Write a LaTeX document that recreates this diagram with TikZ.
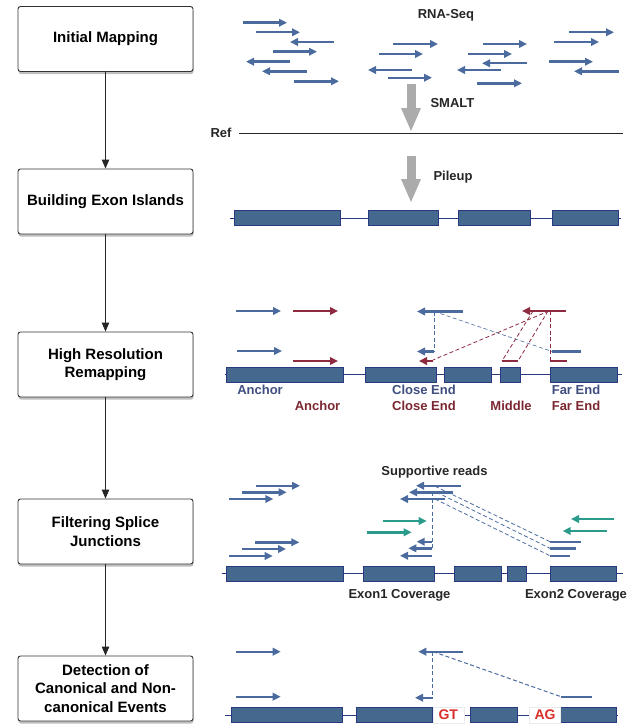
\documentclass[tikz,border=0pt]{standalone}
\usepackage{fontspec}
\setmainfont{Liberation Sans}
\usetikzlibrary{arrows.meta,shadows}

\definecolor{readblue}{HTML}{4B6A9E}
\definecolor{readred}{HTML}{8E2A40}
\definecolor{readteal}{HTML}{2A9B8A}
\definecolor{exonfill}{HTML}{45688F}
\definecolor{exonline}{HTML}{2A3A80}
\definecolor{labblue}{HTML}{3E4E7E}
\definecolor{labred}{HTML}{7B2731}
\definecolor{sitered}{HTML}{D9302C}
\definecolor{pipegray}{HTML}{ABABAB}

\tikzset{
  stage/.style={draw=black!80, line width=0.9pt, fill=white, rounded corners=2.5pt,
    minimum width=175pt, minimum height=65pt, align=center,
    font=\fontsize{15}{18.5}\selectfont\bfseries,
    drop shadow={shadow xshift=0.5pt, shadow yshift=-2.5pt, fill=black, opacity=0.25}},
  flow/.style={-{Triangle[length=9pt,width=7.5pt]}, line width=0.9pt, black!85},
  read/.style={line width=2.4pt, -{Triangle[length=8pt,width=7.5pt]}, readblue},
  bare/.style={line width=2.4pt, readblue},
  link/.style={line width=0.8pt, dash pattern=on 4pt off 2.5pt, readblue},
  exon/.style={fill=exonfill, draw=exonline, line width=0.8pt},
  intron/.style={draw=exonline, line width=0.8pt},
  pipe/.style={line width=9pt, pipegray, -{Triangle[length=24pt,width=18pt]}},
  caption/.style={font=\fontsize{13}{15}\selectfont\bfseries, text=black!85},
  site/.style={fill=white, draw=black!8, minimum width=31pt, minimum height=15.4pt,
    inner sep=0pt, font=\fontsize{14}{16}\selectfont\bfseries, text=sitered}
}

\begin{document}
\begin{tikzpicture}[x=1pt, y=-1pt]
    \useasboundingbox (0,0) rectangle (634,725);

    % workflow on the left
    \node[stage] (initmap) at (105.5,39) {Initial Mapping};
    \node[stage] (exonisl) at (105.5,201.5) {Building Exon Islands};
    \node[stage] (remap) at (105.5,364.5) {High Resolution\\Remapping};
    \node[stage] (filter) at (105.5,531.5) {Filtering Splice\\Junctions};
    \node[stage] (detect) at (105.5,688.5) {Detection of\\Canonical and Non-\\canonical Events};

    \draw[flow] (initmap) -- (exonisl);
    \draw[flow] (exonisl) -- (remap);
    \draw[flow] (remap) -- (filter);
    \draw[flow] (filter) -- (detect);

    % initial mapping
    \node[caption] (rnaseq) at (446,15.7) {RNA-Seq};
    \foreach \xa/\xb/\yy in {243/287/22.7, 256/300/32.3, 334/290/42, 273/317/51.7, 290/246/61.7,
        307/262/71.3, 294/339/81.3, 393/438/44, 379/423/54, 412/368/70, 388/432/77.7,
        483/527/44, 468/512/54, 527/482/63.3, 501/457/70, 477/522/83.3,
        569/614/32.3, 554/599/42, 549/593/61.7, 619/574/71.3}
        \draw[read] (\xa,\yy) -- (\xb,\yy);

    \draw[pipe] (411,84) -- (411,132);
    \node[caption, anchor=west] (smalt) at (427,103) {SMALT};
    \node[caption] (reflabel) at (221,133.3) {Ref};
    \draw[line width=1pt, black!85] (239,133.3) -- (623,133.3);

    % exon islands
    \draw[pipe] (411,156) -- (411,203);
    \node[caption, anchor=west] (pileup) at (430,176.7) {Pileup};
    \draw[intron] (230,218) -- (621,218);
    \foreach \xa/\xb in {234/340, 368/438, 458/530, 552/618}
        \draw[exon] (\xa,210.5) rectangle (\xb,225.5);

    % high resolution remapping
    \draw[read] (236,311) -- (281,311);
    \draw[read] (237,351) -- (282,351);
    \draw[read, readred] (293,311) -- (338,311);
    \draw[read, readred] (293,361) -- (338,361);

    \draw[link] (434.3,311.5) -- (434.3,351.5);
    \draw[link, line width=0.6pt] (434.3,311.5) -- (552,351.5);
    \draw[read] (463,311.5) -- (417,311.5);
    \draw[read] (434.3,351.5) -- (417,351.5);
    \draw[bare] (552,351.5) -- (581,351.5);

    \draw[link, readred] (549,311) -- (433,360);
    \draw[link, readred] (533,311) -- (502,361);
    \draw[link, readred] (548,311) -- (518,361);
    \draw[link, readred] (550,311) -- (550,361);
    \draw[read, readred] (566,311) -- (522,311);
    \draw[read, readred] (433,361) -- (419,361);
    \draw[bare, readred] (501.7,361) -- (518.3,361);
    \draw[bare, readred] (550,361) -- (566.7,361);

    \draw[intron] (225,374.5) -- (621.7,374.5);
    \foreach \xa/\xb in {226.7/343.3, 365.7/436, 444.3/491, 500/520, 550.7/617.7}
        \draw[exon] (\xa,367) rectangle (\xb,382);

    \node[caption, text=labblue] (anchorb) at (260,390) {Anchor};
    \node[caption, text=labred] (anchorr) at (317.5,405.7) {Anchor};
    \node[caption, text=labblue] (closeb) at (424,390) {Close End};
    \node[caption, text=labred] (closer) at (424,405.7) {Close End};
    \node[caption, text=labred] (middle) at (511,405.7) {Middle};
    \node[caption, text=labblue] (farb) at (576,390) {Far End};
    \node[caption, text=labred] (farr) at (576,405.7) {Far End};

    % filtering splice junctions
    \node[caption] (supp) at (434.5,471.7) {Supportive reads};
    \foreach \xa/\xb/\yy in {255.7/300/485.7, 242.3/286.7/492.3, 229.3/273.3/499,
        255/299.3/542.3, 241.7/286/549, 229/272.7/556,
        460.7/416/485.7, 453.3/409/492.3, 445/400/499,
        432.3/416.7/541.7, 432.3/408.3/548.3, 431.7/400/555.7}
        \draw[read] (\xa,\yy) -- (\xb,\yy);
    \foreach \xa/\xb/\yy in {550/581/541.7, 550/575.7/548.3, 550/570/555.7}
        \draw[bare] (\xa,\yy) -- (\xb,\yy);

    \draw[link] (432.3,492) -- (432.3,548.3);
    \draw[link] (435,486.2) -- (550,541.7);
    \draw[link] (436.7,492.3) -- (550,548.3);
    \draw[link] (435,499) -- (550,555.7);

    \draw[read, readteal] (383.3,521) -- (426.7,521);
    \draw[read, readteal] (367.3,532.3) -- (411.7,532.3);
    \draw[read, readteal] (614.3,519) -- (571,519);
    \draw[read, readteal] (606.7,531) -- (562.7,531);

    \draw[intron] (221.7,573.5) -- (622.7,573.5);
    \foreach \xa/\xb in {226.7/343.3, 363.3/434.3, 454/501, 507.3/526.7, 550/616.7}
        \draw[exon] (\xa,566) rectangle (\xb,581);

    \node[caption] (exon1) at (399.5,595.7) {Exon1 Coverage};
    \node[caption] (exon2) at (576,595.7) {Exon2 Coverage};

    % canonical and non-canonical events
    \draw[read] (236,651.7) -- (280.7,651.7);
    \draw[read] (236,696.7) -- (280.7,696.7);
    \draw[link, line width=1pt] (432.7,651.7) -- (432.7,697.7);
    \draw[link, line width=1pt] (433.3,651.7) -- (561,696.7);
    \draw[read] (463.3,651.7) -- (418.3,651.7);
    \draw[read] (432.7,697.7) -- (415,697.7);
    \draw[bare] (561,696.7) -- (591.7,696.7);

    \draw[intron] (225,715) -- (618.3,715);
    \foreach \xa/\xb in {231.7/342.7, 356.7/432.7, 470.7/517.3, 560.7/616.7}
        \draw[exon] (\xa,707.3) rectangle (\xb,722.7);
    \node[site] (gt) at (448.3,715) {GT};
    \node[site] (ag) at (545,715) {AG};

\end{tikzpicture}
\end{document}
